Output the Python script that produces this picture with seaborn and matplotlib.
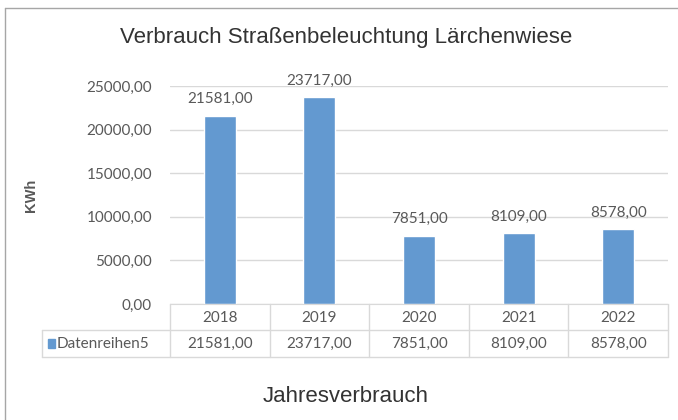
import numpy as np
import pandas as pd
import seaborn as sns
import matplotlib.pyplot as plt
from matplotlib.lines import Line2D
from matplotlib.patches import Rectangle
from matplotlib.ticker import FuncFormatter
import matplotlib.transforms as mtransforms

jahre = ["2018", "2019", "2020", "2021", "2022"]
verbrauch = [21581.00, 23717.00, 7851.00, 8109.00, 8578.00]
serie = "Datenreihen5"
titel = "Verbrauch Straßenbeleuchtung Lärchenwiese"
unten = "Jahresverbrauch"
y_ticks = [0, 5000, 10000, 15000, 20000, 25000]

sns.set_style("white")
plt.rcParams['font.family'] = ['Lato', 'DejaVu Sans']

blau = "#6399d0"
grau_text = "#595959"
grau_linie = "#d9d9d9"

def komma(v, pos=None):
    return f"{v:.2f}".replace(".", ",")

df = pd.DataFrame({"Jahr": jahre, "KWh": verbrauch})

W, H = 678, 420
fig = plt.figure(figsize=(W / 100, H / 100), dpi=100)
x0, x1, y0, y1 = 170, 668, 304, 86
ax = fig.add_axes([x0 / W, 1 - y0 / H, (x1 - x0) / W, (y0 - y1) / H])

sns.barplot(data=df, x="Jahr", y="KWh", color=blau, width=0.32, ax=ax,
            saturation=1)
ax.set_xlim(-0.5, 4.5)
ax.set_ylim(0, 25000)
ax.set_yticks(y_ticks)
ax.yaxis.set_major_formatter(FuncFormatter(komma))
ax.grid(axis="y", color=grau_linie, linewidth=1)
ax.set_axisbelow(True)
for s in ["top", "right", "left"]:
    ax.spines[s].set_visible(False)
ax.spines["bottom"].set_color(grau_linie)
ax.tick_params(axis="y", length=0, pad=13, labelsize=11, labelcolor=grau_text)
ax.tick_params(axis="x", length=0, pad=5, labelsize=11, labelcolor=grau_text)
ax.set_xlabel("")
ax.set_ylabel("KWh", fontsize=10.5, color=grau_text, fontweight="bold",
              family=["Liberation Sans"])
ax.yaxis.set_label_coords(-0.266, 0.5)

ax.bar_label(ax.containers[0], labels=[komma(v) for v in verbrauch],
             padding=7, fontsize=11, color=grau_text)

# Datentabelle unter dem Diagramm
tr = mtransforms.blended_transform_factory(ax.transData, ax.transAxes)
ph = y0 - y1
r1 = -(330 - y0) / ph
r2 = -(357 - y0) / ph
links = -0.5 - (x0 - 42) / ((x1 - x0) / 5)
for xb in np.arange(-0.5, 5.0, 1.0):
    ax.add_line(Line2D([xb, xb], [0, r2], transform=tr, color=grau_linie,
                       lw=1, clip_on=False))
ax.add_line(Line2D([links, links], [r1, r2], transform=tr, color=grau_linie,
                   lw=1, clip_on=False))
for yb in [r1, r2]:
    ax.add_line(Line2D([links, 4.5], [yb, yb], transform=tr, color=grau_linie,
                       lw=1, clip_on=False))
for i, v in enumerate(verbrauch):
    ax.text(i, (r1 + r2) / 2, komma(v), transform=tr, ha="center", va="center",
            fontsize=11, color=grau_text)
ax.add_patch(Rectangle((links + 0.06, (r1 + r2) / 2 - 0.02), 0.07, 0.04,
                       transform=tr, color=blau, clip_on=False))
ax.text(links + 0.15, (r1 + r2) / 2, serie, transform=tr, ha="left",
        va="center", fontsize=11, color=grau_text)

fig.text(346 / W, 1 - 38 / H, titel, ha="center", va="center", fontsize=16,
         color="#333333", family=["Liberation Sans"])
fig.text(346 / W, 1 - 396 / H, unten, ha="center", va="center", fontsize=16,
         color="#333333", family=["Liberation Sans"])

# Rahmen
fig.add_artist(Line2D([5 / W, 1], [1 - 8 / H, 1 - 8 / H], color="#a6a6a6", lw=1))
fig.add_artist(Line2D([5 / W, 5 / W], [0, 1 - 8 / H], color="#a6a6a6", lw=1))

fig.savefig("out.png", dpi=100)
